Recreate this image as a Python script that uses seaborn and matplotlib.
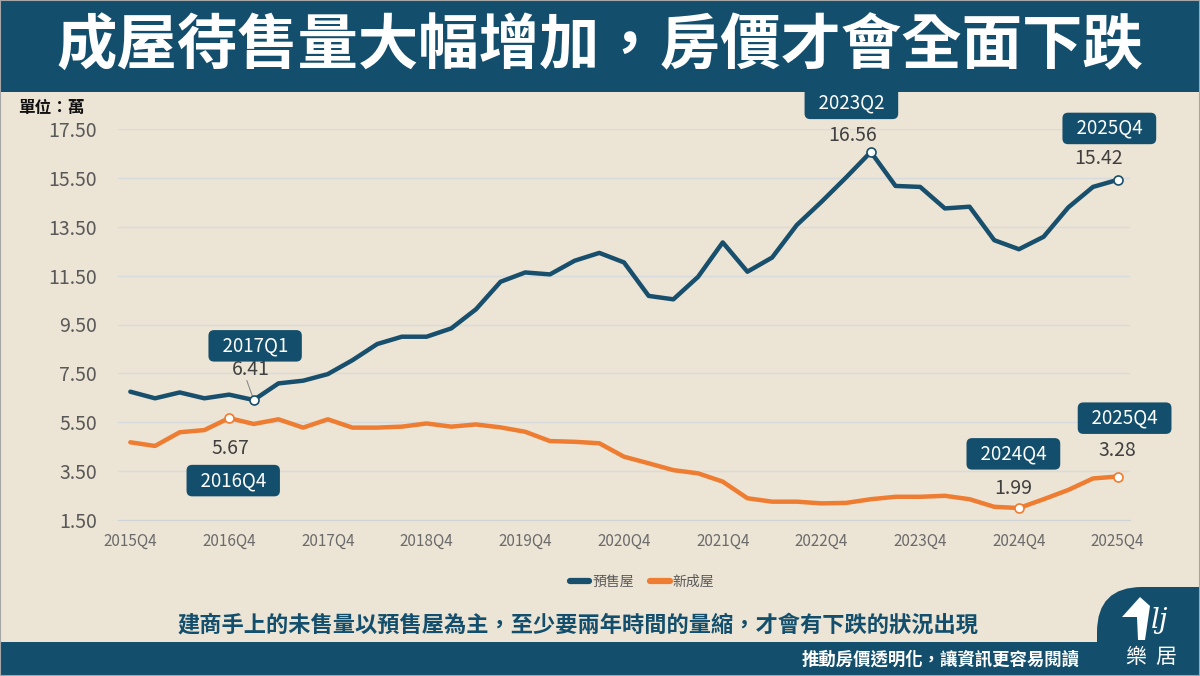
import matplotlib
matplotlib.use('Agg')
import matplotlib.pyplot as plt
from matplotlib.patches import Rectangle, FancyBboxPatch, Polygon
import seaborn as sns
import pandas as pd

# 資料
quarters = ['2015Q4',
            '2016Q1', '2016Q2', '2016Q3', '2016Q4',
            '2017Q1', '2017Q2', '2017Q3', '2017Q4',
            '2018Q1', '2018Q2', '2018Q3', '2018Q4',
            '2019Q1', '2019Q2', '2019Q3', '2019Q4',
            '2020Q1', '2020Q2', '2020Q3', '2020Q4',
            '2021Q1', '2021Q2', '2021Q3', '2021Q4',
            '2022Q1', '2022Q2', '2022Q3', '2022Q4',
            '2023Q1', '2023Q2', '2023Q3', '2023Q4',
            '2024Q1', '2024Q2', '2024Q3', '2024Q4',
            '2025Q1', '2025Q2', '2025Q3', '2025Q4']
presale = [6.75, 6.48, 6.72, 6.48, 6.63, 6.41, 7.09, 7.20, 7.47, 8.04,
           8.70, 9.00, 9.00, 9.34, 10.12, 11.25, 11.63, 11.55, 12.11, 12.43,
           12.04, 10.67, 10.53, 11.45, 12.86, 11.66, 12.24, 13.57, 14.52, 15.52,
           16.56, 15.17, 15.13, 14.25, 14.32, 12.95, 12.58, 13.09, 14.29, 15.13,
           15.42]
new_built = [4.68, 4.53, 5.09, 5.18, 5.67, 5.43, 5.62, 5.28, 5.62, 5.28,
             5.28, 5.32, 5.45, 5.32, 5.41, 5.29, 5.11, 4.73, 4.70, 4.64,
             4.09, 3.82, 3.54, 3.41, 3.07, 2.39, 2.25, 2.25, 2.18, 2.20,
             2.35, 2.45, 2.45, 2.49, 2.35, 2.04, 1.99, 2.35, 2.73, 3.20,
             3.28]
series_names = ['預售屋', '新成屋']
x_labels = ['2015Q4', '2016Q4', '2017Q4', '2018Q4', '2019Q4', '2020Q4',
            '2021Q4', '2022Q4', '2023Q4', '2024Q4', '2025Q4']
y_ticks = [1.5, 3.5, 5.5, 7.5, 9.5, 11.5, 13.5, 15.5, 17.5]

# 標註點: (系列, 季別)
highlights = [('預售屋', '2017Q1'), ('新成屋', '2016Q4'), ('預售屋', '2023Q2'),
              ('預售屋', '2025Q4'), ('新成屋', '2024Q4'), ('新成屋', '2025Q4')]

BLUE = '#174f6d'
ORANGE = '#ee7d31'
BG = '#ece4d5'
BANNER = '#134f6c'

sns.set_style('white')
plt.rcParams['font.family'] = ['Noto Sans CJK TC', 'DejaVu Sans']

df = pd.DataFrame({
    'pos': list(range(len(quarters))) * 2,
    'quarter': quarters * 2,
    'value': presale + new_built,
    'series': [series_names[0]] * len(quarters) + [series_names[1]] * len(quarters),
})

fig = plt.figure(figsize=(12, 6.76), dpi=100)
fig.patch.set_facecolor(BG)

ax = fig.add_axes([118 / 1200, 1 - 520 / 676, 1012 / 1200, 391 / 676])
ax.set_facecolor(BG)

sns.lineplot(data=df, x='pos', y='value', hue='series',
             palette=[BLUE, ORANGE], linewidth=3.2, ax=ax, legend=False)

# 標註
lookup = {series_names[0]: presale, series_names[1]: new_built}
colors = {series_names[0]: BLUE, series_names[1]: ORANGE}
# 位移 (點): 數值標籤, 季別方框
offsets = [((-2, 22), (1, 39)),
           ((1, -22), (3, -45)),
           ((-13, 12), (-14, 35)),
           ((-14, 15), (-6, 37)),
           ((-4, 14), (-4, 39)),
           ((0, 19), (5, 42))]
for (name, q), (val_off, box_off) in zip(highlights, offsets):
    i = quarters.index(q)
    v = lookup[name][i]
    ax.scatter([i], [v], s=42, facecolor='white', edgecolor=colors[name],
               linewidth=1.2, zorder=5)
    ax.annotate(f'{v:.2f}', xy=(i, v), xytext=val_off, textcoords='offset points',
                ha='center', va='center', fontsize=14, color='#404040')
    ax.annotate(f'  {q}  ', xy=(i, v), xytext=box_off, textcoords='offset points',
                ha='center', va='center', fontsize=13.5, color='white',
                bbox=dict(boxstyle='round,pad=0.28,rounding_size=0.3',
                          fc=BANNER, ec='none'))

# 6.41 的引導線
i_lead = quarters.index('2017Q1')
ax.annotate('', xy=(i_lead, presale[i_lead]), xytext=(-5, 14), textcoords='offset points',
            arrowprops=dict(arrowstyle='-', color='#8c8c8c', lw=0.8, shrinkA=0, shrinkB=3))

ax.set_xlim(-0.5, len(quarters) - 0.5)
ax.set_ylim(1.5, 17.5)
ax.set_yticks(y_ticks)
ax.set_yticklabels([f'{t:.2f}' for t in y_ticks], fontsize=14, color='#595959')
ax.set_xticks([quarters.index(q) for q in x_labels])
ax.set_xticklabels(x_labels, fontsize=11, color='#6b6b6b')
ax.set_xticks([k - 0.5 for k in range(len(quarters) + 1)], minor=True)
ax.tick_params(axis='x', which='major', length=0, pad=9)
ax.tick_params(axis='x', which='minor', length=5, color='#d0d3d6', width=1)
ax.tick_params(axis='y', length=0, pad=15)
ax.grid(axis='y', color='#d8dbde', linewidth=1)
ax.set_axisbelow(True)
for s in ['top', 'right', 'left']:
    ax.spines[s].set_visible(False)
ax.spines['bottom'].set_color('#d0d3d6')
ax.set_xlabel('')
ax.set_ylabel('')

# 圖例
handles = [plt.Line2D([], [], color=BLUE, lw=4.5), plt.Line2D([], [], color=ORANGE, lw=4.5)]
fig.legend(handles, series_names, loc='center', bbox_to_anchor=(0.535, 1 - 582 / 676),
           ncol=2, frameon=False, fontsize=10, handlelength=1.4, handletextpad=0.2,
           columnspacing=1.2, labelcolor='#595959')

# 標題列
fig.patches.append(Rectangle((0, 1 - 92 / 676), 1, 92 / 676, transform=fig.transFigure,
                             fc=BANNER, ec='none', zorder=0))
fig.text(0.5, 1 - 47 / 676, '成屋待售量大幅增加，房價才會全面下跌', ha='center', va='center',
         fontsize=43.5, fontweight='bold', color='white')
fig.text(18 / 1200, 1 - 108 / 676, '單位：萬', ha='left', va='center',
         fontsize=12, fontweight='bold', color='#111111')

# 說明文字
fig.text(578 / 1200, 1 - 625 / 676,
         '建商手上的未售量以預售屋為主，至少要兩年時間的量縮，才會有下跌的狀況出現',
         ha='center', va='center', fontsize=16, fontweight='bold', color=BANNER)

# 頁尾
fig.patches.append(Rectangle((0, 0), 1, 34 / 676, transform=fig.transFigure,
                             fc=BANNER, ec='none', zorder=0))
fig.patches.append(FancyBboxPatch((10.97, -0.6), 1.5, 0.6 + 0.89,
                                  boxstyle='round,pad=0,rounding_size=0.45',
                                  transform=fig.dpi_scale_trans, fc=BANNER, ec='none', zorder=0))
fig.text(1080 / 1200, 1 - 660 / 676, '推動房價透明化，讓資訊更容易閱讀', ha='right', va='center',
         fontsize=12.5, fontweight='bold', color='white')
fig.text(1151 / 1200, 1 - 657 / 676, '樂  居', ha='center', va='center',
         fontsize=15, color='white')
# 簡易標誌
fig.text(1160 / 1200, 1 - 620 / 676, 'lj', ha='center', va='center', fontsize=20,
         style='italic', color='white', family='DejaVu Serif')
roof = Polygon([(1122 / 1200, 1 - 617 / 676), (1140 / 1200, 1 - 597 / 676),
                (1150 / 1200, 1 - 606 / 676), (1145 / 1200, 1 - 640 / 676),
                (1138 / 1200, 1 - 640 / 676), (1137 / 1200, 1 - 617 / 676)],
               closed=True, transform=fig.transFigure, fc='white', ec='none')
fig.patches.append(roof)

# 外框
fig.patches.append(Rectangle((0, 0), 1, 1, transform=fig.transFigure, fill=False,
                             ec='#a6a6a6', lw=1.5, zorder=10))

fig.savefig('out.png', dpi=100, facecolor=BG)
